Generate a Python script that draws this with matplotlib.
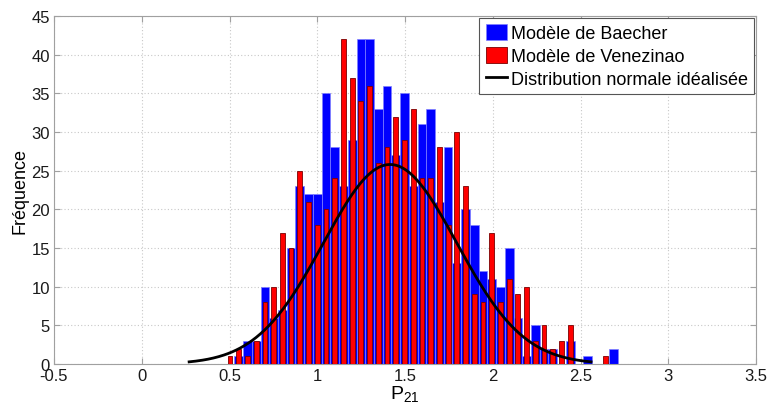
import numpy as np
import matplotlib
matplotlib.use("Agg")
import matplotlib.pyplot as plt

plt.rcParams["font.family"] = ["Liberation Sans", "DejaVu Sans"]

# Common histogram grid: centre of the first bin and bin width
bin_first_center = 0.503
bin_width = 0.0497

# Venezinao counts fill bins 0..43, Baecher counts fill bins 1..44
venezinao_counts = [1, 2, 1, 3, 8, 10, 17, 15, 25, 21,
                    18, 20, 24, 42, 37, 34, 36, 26, 28, 32,
                    29, 33, 24, 24, 28, 18, 30, 23, 9, 8,
                    17, 8, 11, 9, 10, 3, 5, 2, 3, 5,
                    0, 0, 0, 1]
baecher_counts = [1, 3, 3, 10, 6, 7, 15, 23, 22, 22,
                  35, 28, 23, 29, 42, 42, 33, 36, 27, 35,
                  23, 31, 33, 21, 28, 13, 20, 18, 12, 11,
                  10, 15, 6, 1, 5, 2, 2, 0, 3, 0,
                  1, 0, 0, 2]

# Idealised normal curve
normal_mean = 1.415
normal_sigma = 0.38
normal_peak = 25.8
normal_x_range = (0.27, 2.56)

x_ticks = [-0.5, 0, 0.5, 1, 1.5, 2, 2.5, 3, 3.5]
y_ticks = [0, 5, 10, 15, 20, 25, 30, 35, 40, 45]

red_centers = bin_first_center + bin_width * np.arange(len(venezinao_counts))
blue_centers = bin_first_center + bin_width * (1 + np.arange(len(baecher_counts)))

fig = plt.figure(figsize=(7.67, 4.10), dpi=100)
ax = fig.add_axes([0.0704, 0.1098, 0.9153, 0.8487])

h_blue = ax.bar(blue_centers, baecher_counts, width=bin_width, color="#0000ff",
                edgecolor="#7f7fff", linewidth=0.5, label="Modèle de Baecher", zorder=2)
h_red = ax.bar(red_centers, venezinao_counts, width=bin_width * 0.55, color="#ff0000",
               edgecolor="#7a0000", linewidth=0.6, label="Modèle de Venezinao", zorder=3)

xc = np.linspace(normal_x_range[0], normal_x_range[1], 300)
yc = normal_peak * np.exp(-0.5 * ((xc - normal_mean) / normal_sigma) ** 2)
h_line, = ax.plot(xc, yc, color="black", linewidth=2.0,
                  label="Distribution normale idéalisée", zorder=4)

ax.set_xlim(-0.5, 3.5)
ax.set_ylim(0, 45)
ax.set_xticks(x_ticks)
ax.set_xticklabels([f"{t:g}" for t in x_ticks])
ax.set_yticks(y_ticks)

ax.grid(True, color="#c8c8c8", linestyle=(0, (1, 2)), linewidth=0.8, zorder=0)
ax.set_axisbelow(True)
for s in ax.spines.values():
    s.set_color("#a0a0a0")
    s.set_linewidth(0.8)
ax.tick_params(direction="in", length=4, color="#a0a0a0", labelsize=12,
               labelcolor="#1a1a1a", top=True, right=True, pad=3)

ax.set_xlabel(r"$\mathregular{P_{21}}$", fontsize=14, labelpad=0)
ax.set_ylabel("Fréquence", fontsize=13, labelpad=2)

leg = ax.legend(handles=[h_blue, h_red, h_line], loc="upper right", fontsize=13,
                frameon=True, fancybox=False, framealpha=1, edgecolor="#555555",
                borderaxespad=0.1, handlelength=1.2, handleheight=1.0,
                handletextpad=0.2, labelspacing=0.25, borderpad=0.35)
leg.get_frame().set_linewidth(0.8)

fig.savefig("out.png", dpi=100)
